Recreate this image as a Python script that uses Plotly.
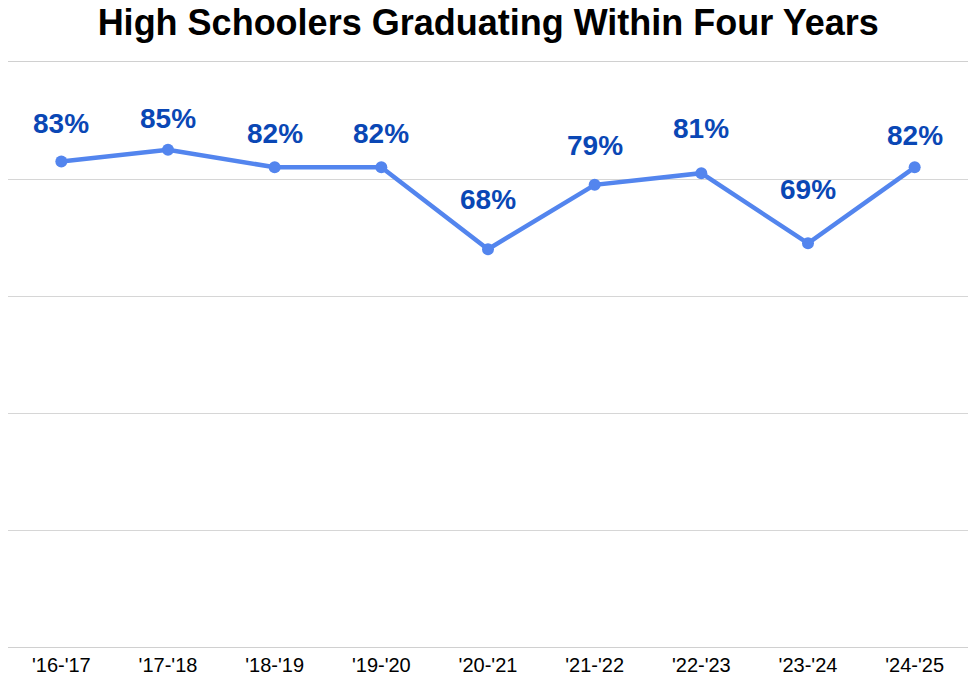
import plotly.graph_objects as go

years = ["'16-'17", "'17-'18", "'18-'19", "'19-'20", "'20-'21",
         "'21-'22", "'22-'23", "'23-'24", "'24-'25"]
grad_rate = [83, 85, 82, 82, 68, 79, 81, 69, 82]

line_blue = "#5385EE"
label_blue = "#0A47B5"
# how far (px) each value label sits above its point, as in the original
label_lift = [20, 14, 16, 16, 32, 22, 27, 36, 14]

fig = go.Figure()
fig.add_trace(go.Scatter(
    x=years, y=grad_rate, mode="lines+markers",
    line=dict(color=line_blue, width=4.5),
    marker=dict(color=line_blue, size=12),
    hoverinfo="x+y", showlegend=False,
))

for yr, val, lift in zip(years, grad_rate, label_lift):
    fig.add_annotation(
        x=yr, y=val, text=f"<b>{val}%</b>", showarrow=False,
        yanchor="bottom", yshift=lift,
        font=dict(family="Liberation Sans, Arial", size=28, color=label_blue),
    )

fig.update_layout(
    width=976, height=692,
    margin=dict(l=0, r=16, t=54, b=53),
    paper_bgcolor="white", plot_bgcolor="white",
    title=dict(
        text="<b>High Schoolers Graduating Within Four Years</b>",
        x=0.492, xanchor="center", y=0.979, yanchor="middle",
        font=dict(family="Liberation Sans, Arial", size=36, color="black"),
    ),
    xaxis=dict(
        type="category", range=[-0.5, 8.5], showgrid=False, automargin=False,
        showline=True, mirror=True, linecolor="#d0d0d0", linewidth=1,
        ticks="", tickfont=dict(family="Liberation Sans, Arial", size=20, color="black"),
        fixedrange=True,
    ),
    yaxis=dict(
        range=[0, 100], dtick=20, showticklabels=False, automargin=False,
        showgrid=True, gridcolor="#d6d6d6", gridwidth=1,
        zeroline=False, fixedrange=True,
    ),
)

fig.write_html("out.html")
